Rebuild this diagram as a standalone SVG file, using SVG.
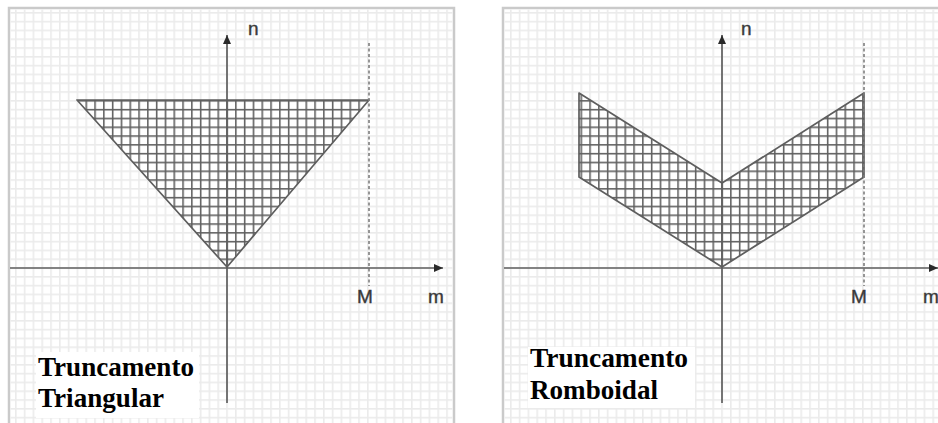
<svg xmlns="http://www.w3.org/2000/svg" width="938" height="423" viewBox="0 0 938 423">
<style>
.axis{stroke:#5e5e5e;stroke-width:1.7;fill:none}
.dash{stroke:#7e7e7e;stroke-width:1.6;stroke-dasharray:3 2.5;fill:none}
.edge{stroke:#5e5e5e;stroke-width:1.7;fill:none;stroke-linejoin:round}
.lbl{font-family:"Liberation Sans",Arial,sans-serif;font-size:19px;fill:#3a3a3a;stroke:#3a3a3a;stroke-width:0.4}
.cap{font-family:"Liberation Serif","Times New Roman",serif;font-size:28px;font-weight:bold;fill:#000}
.border{fill:#ffffff;stroke:#cacaca;stroke-width:2.5}
</style>
<defs>
<pattern id="gridL" patternUnits="userSpaceOnUse" x="226.2" y="267.2" width="8.8" height="8.8">
<rect x="0" y="0" width="1.6" height="8.8" fill="#ebebeb"/>
<rect x="0" y="0" width="8.8" height="1.6" fill="#ebebeb"/>
</pattern>
<pattern id="gridR" patternUnits="userSpaceOnUse" x="721.2" y="267.2" width="8.8" height="8.8">
<rect x="0" y="0" width="1.6" height="8.8" fill="#ebebeb"/>
<rect x="0" y="0" width="8.8" height="1.6" fill="#ebebeb"/>
</pattern>
<pattern id="hatchL" patternUnits="userSpaceOnUse" x="226.3" y="267.3" width="8.8" height="8.8">
<rect x="0" y="0" width="1.5" height="8.8" fill="#5f5f5f"/>
<rect x="0" y="0" width="8.8" height="1.5" fill="#5f5f5f"/>
</pattern>
<pattern id="hatchR" patternUnits="userSpaceOnUse" x="721.3" y="267.3" width="8.8" height="8.8">
<rect x="0" y="0" width="1.5" height="8.8" fill="#5f5f5f"/>
<rect x="0" y="0" width="8.8" height="1.5" fill="#5f5f5f"/>
</pattern>
<marker id="arr" markerWidth="10" markerHeight="10" refX="9" refY="5" orient="auto" markerUnits="userSpaceOnUse">
<path d="M0,1 L9,5 L0,9 Z" fill="#2a2a2a"/>
</marker>
</defs>

<g id="panel-triangular">
<rect class="border" x="9" y="8" width="445" height="420"/>
<rect x="10.5" y="9.5" width="442" height="415" fill="url(#gridL)"/>
<g id="region-triangular">
<polygon points="77,100 369,100 227,267" fill="url(#hatchL)"/>
<polygon class="edge" points="77,100 369,100 227,267"/>
</g>
<g id="connectors-left">
<line class="dash" x1="369" y1="43" x2="369" y2="286"/>
<line class="axis" x1="227" y1="403" x2="227" y2="35" marker-end="url(#arr)"/>
<line class="axis" x1="10" y1="268" x2="443" y2="268" marker-end="url(#arr)"/>
</g>
<text class="lbl" x="248" y="35">n</text>
<text class="lbl" x="365" y="303" text-anchor="middle">M</text>
<text class="lbl" x="428" y="303">m</text>
<g id="caption-left">
<rect x="36" y="352" width="163" height="66" fill="#ffffff"/>
<text class="cap" x="38" y="376" textLength="156" lengthAdjust="spacingAndGlyphs">Truncamento</text>
<text class="cap" x="38" y="407" textLength="126" lengthAdjust="spacingAndGlyphs">Triangular</text>
</g>
</g>

<g id="panel-romboidal">
<rect class="border" x="503" y="8" width="445" height="420"/>
<rect x="504.5" y="9.5" width="440" height="415" fill="url(#gridR)"/>
<g id="region-romboidal">
<polygon points="579,93 722,183 864,93 864,177 722,267 579,177" fill="url(#hatchR)"/>
<polygon class="edge" points="579,93 722,183 864,93 864,177 722,267 579,177"/>
</g>
<g id="connectors-right">
<line class="dash" x1="864" y1="43" x2="864" y2="286"/>
<line class="axis" x1="722" y1="403" x2="722" y2="35" marker-end="url(#arr)"/>
<line class="axis" x1="504" y1="268" x2="938" y2="268" marker-end="url(#arr)"/>
</g>
<text class="lbl" x="741" y="35">n</text>
<text class="lbl" x="859" y="303" text-anchor="middle">M</text>
<text class="lbl" x="923" y="303">m</text>
<g id="caption-right">
<rect x="528" y="347" width="167" height="61" fill="#ffffff"/>
<text class="cap" x="530" y="367" textLength="158" lengthAdjust="spacingAndGlyphs">Truncamento</text>
<text class="cap" x="530" y="399" textLength="128" lengthAdjust="spacingAndGlyphs">Romboidal</text>
</g>
</g>
</svg>
